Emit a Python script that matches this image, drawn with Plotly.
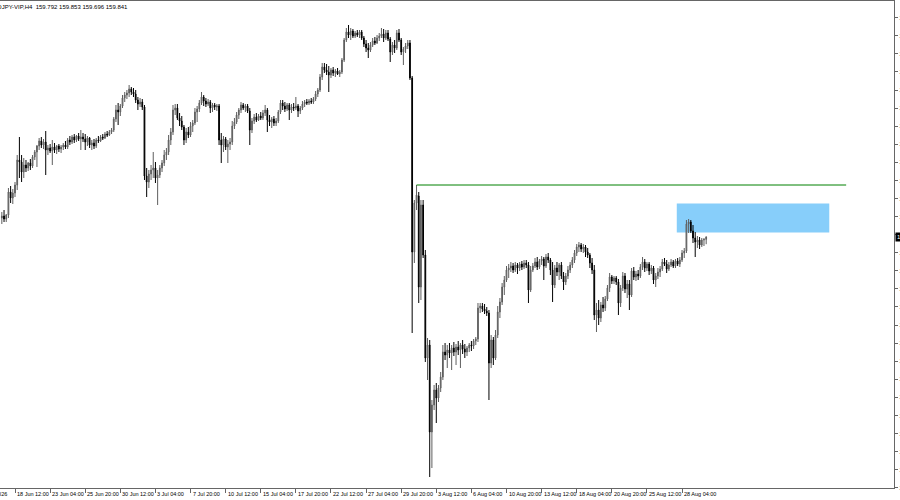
import plotly.graph_objects as go

title_text = "USDJPY-VIP,H4  159.792 159.853 159.696 159.841"
last_price = 159.841

open_ = [
    160.22, 160.26, 160.20, 160.28, 160.74, 160.62, 160.72, 160.88, 161.38, 161.34,
    161.14, 161.28, 161.22, 161.32, 161.26, 161.44, 161.54, 161.66, 161.76, 161.68,
    161.74, 161.58, 161.62, 161.56, 161.64, 161.58, 161.66, 161.60, 161.64, 161.68,
    161.64, 161.78, 161.74, 161.84, 161.78, 161.86, 161.80, 161.84, 161.80, 161.74,
    161.82, 161.68, 161.72, 161.66, 161.78, 161.76, 161.84, 161.82, 161.90, 161.88,
    161.94, 161.98, 162.20, 162.38, 162.34, 162.46, 162.62, 162.68, 162.72, 162.80,
    162.74, 162.70, 162.58, 162.50, 162.54, 162.44, 161.06, 160.94, 161.10, 161.18,
    161.22, 161.02, 161.08, 161.22, 161.32, 161.48, 161.54, 161.78, 161.94, 162.38,
    162.42, 162.22, 162.16, 162.04, 161.78, 161.94, 161.88, 162.06, 162.12, 162.34,
    162.40, 162.52, 162.64, 162.56, 162.50, 162.54, 162.42, 162.48, 162.44, 162.46,
    161.78, 161.68, 161.80, 161.64, 161.70, 161.74, 162.06, 162.14, 162.28, 162.38,
    162.48, 162.42, 162.46, 162.36, 161.98, 162.16, 162.24, 162.18, 162.26, 162.22,
    162.32, 162.38, 162.18, 162.14, 162.20, 162.12, 162.16, 162.34, 162.52, 162.46,
    162.40, 162.48, 162.38, 162.44, 162.42, 162.46, 162.36, 162.42, 162.50, 162.54,
    162.52, 162.56, 162.54, 162.60, 162.70, 162.78, 163.04, 163.24, 163.18, 163.14,
    163.08, 163.18, 163.12, 163.16, 163.10, 163.14, 163.38, 163.78, 163.94, 163.88,
    163.96, 163.86, 163.92, 163.88, 163.94, 163.82, 163.70, 163.62, 163.58, 163.68,
    163.76, 163.72, 163.82, 163.86, 163.90, 163.82, 163.92, 163.80, 163.54, 163.68,
    163.62, 163.92, 163.78, 163.54, 163.60, 163.66, 163.72, 163.02, 159.54, 160.52,
    160.66, 158.84, 160.48, 159.48, 157.42, 157.68, 155.94, 156.48, 156.78, 156.62,
    156.82, 157.04, 157.54, 157.48, 157.58, 157.52, 157.62, 157.54, 157.64, 157.58,
    157.68, 157.60, 157.54, 157.62, 157.68, 157.66, 157.76, 157.80, 158.42, 158.46,
    158.40, 158.36, 158.32, 157.32, 157.78, 157.42, 157.88, 158.34, 158.54, 158.84,
    158.98, 159.18, 159.22, 159.26, 159.18, 159.28, 159.22, 159.30, 159.24, 159.32,
    159.28, 158.78, 159.18, 159.26, 159.34, 159.24, 159.36, 159.40, 159.26, 159.44,
    159.38, 159.18, 158.88, 159.22, 159.14, 159.28, 159.06, 158.94, 159.06, 159.18,
    159.28, 159.38, 159.52, 159.64, 159.68, 159.60, 159.64, 159.54, 159.48, 159.32,
    159.18, 158.28, 158.38, 158.22, 158.48, 158.42, 158.60, 158.82, 159.04, 158.96,
    159.02, 158.94, 158.52, 158.82, 159.06, 158.80, 158.90, 158.68, 159.16, 159.04,
    159.10, 159.06, 159.24, 159.34, 159.22, 159.30, 159.16, 159.22, 158.98, 159.06,
    159.14, 159.20, 159.34, 159.30, 159.20, 159.28, 159.34, 159.26, 159.36, 159.30,
    159.38, 159.52, 159.56, 160.10, 160.14, 159.96, 159.82, 159.74, 159.78, 159.68,
    159.78, 159.792,
]

high = [
    160.34, 160.38, 160.30, 160.82, 160.86, 160.80, 160.94, 161.48, 161.84, 161.48,
    161.42, 161.38, 161.34, 161.40, 161.48, 161.58, 161.68, 161.82, 161.84, 161.80,
    161.96, 161.68, 161.70, 161.78, 161.72, 161.68, 161.70, 161.68, 161.72, 161.76,
    161.82, 161.86, 161.88, 161.90, 161.88, 161.92, 161.98, 161.92, 161.90, 161.86,
    161.84, 161.78, 161.80, 161.82, 161.86, 161.88, 161.90, 161.94, 161.96, 161.98,
    162.02, 162.24, 162.48, 162.52, 162.50, 162.68, 162.74, 162.78, 162.88, 162.84,
    162.82, 162.78, 162.64, 162.62, 162.60, 162.48, 161.22, 161.18, 161.28, 161.54,
    161.34, 161.18, 161.28, 161.38, 161.58, 161.62, 161.88, 162.02, 162.48, 162.50,
    162.50, 162.32, 162.26, 162.08, 162.02, 162.04, 162.14, 162.18, 162.42, 162.46,
    162.58, 162.74, 162.68, 162.62, 162.60, 162.58, 162.52, 162.52, 162.50, 162.50,
    161.92, 161.86, 161.84, 161.78, 161.82, 162.16, 162.22, 162.34, 162.42, 162.54,
    162.52, 162.50, 162.50, 162.42, 162.22, 162.30, 162.32, 162.30, 162.34, 162.38,
    162.48, 162.42, 162.28, 162.24, 162.26, 162.22, 162.38, 162.58, 162.58, 162.54,
    162.52, 162.52, 162.50, 162.52, 162.64, 162.50, 162.46, 162.56, 162.58, 162.60,
    162.60, 162.62, 162.64, 162.76, 162.82, 163.10, 163.32, 163.32, 163.30, 163.26,
    163.22, 163.24, 163.20, 163.22, 163.18, 163.42, 163.82, 164.02, 164.08, 164.02,
    164.00, 163.96, 163.98, 163.98, 163.98, 163.86, 163.78, 163.72, 163.74, 163.82,
    163.84, 163.88, 163.92, 164.02, 164.00, 163.98, 163.98, 163.84, 163.74, 163.78,
    163.98, 164.00, 163.82, 163.64, 163.72, 163.78, 163.78, 163.06, 160.58, 160.88,
    160.74, 160.58, 160.58, 159.58, 157.82, 157.78, 156.58, 156.88, 156.92, 156.88,
    157.14, 157.68, 157.72, 157.68, 157.72, 157.68, 157.74, 157.70, 157.76, 157.72,
    157.78, 157.70, 157.66, 157.72, 157.76, 157.80, 157.84, 158.52, 158.52, 158.52,
    158.50, 158.44, 158.38, 157.88, 157.84, 157.98, 158.46, 158.62, 158.92, 159.06,
    159.26, 159.30, 159.34, 159.32, 159.34, 159.32, 159.34, 159.36, 159.38, 159.38,
    159.34, 159.26, 159.32, 159.42, 159.44, 159.40, 159.46, 159.44, 159.50, 159.52,
    159.42, 159.34, 159.28, 159.34, 159.32, 159.34, 159.14, 159.12, 159.26, 159.34,
    159.44, 159.58, 159.70, 159.74, 159.72, 159.70, 159.68, 159.62, 159.52, 159.42,
    159.28, 158.52, 158.58, 158.54, 158.64, 158.66, 158.88, 159.12, 159.08, 159.06,
    159.06, 159.00, 158.88, 159.14, 159.12, 158.98, 158.98, 159.22, 159.24, 159.16,
    159.18, 159.30, 159.44, 159.40, 159.34, 159.34, 159.28, 159.26, 159.12, 159.22,
    159.26, 159.40, 159.42, 159.38, 159.34, 159.40, 159.38, 159.40, 159.42, 159.44,
    159.58, 159.62, 160.18, 160.20, 160.18, 160.08, 159.94, 159.86, 159.84, 159.82,
    159.82, 159.853,
]

low = [
    160.10, 160.14, 160.14, 160.22, 160.52, 160.50, 160.64, 160.78, 161.02, 160.94,
    161.02, 161.14, 161.16, 161.18, 161.22, 161.38, 161.24, 161.58, 161.62, 161.60,
    161.08, 161.48, 161.52, 161.28, 161.52, 161.50, 161.54, 161.52, 161.58, 161.60,
    161.60, 161.68, 161.70, 161.72, 161.74, 161.76, 161.58, 161.74, 161.58, 161.66,
    161.62, 161.58, 161.60, 161.62, 161.72, 161.74, 161.78, 161.80, 161.84, 161.86,
    161.90, 161.94, 162.14, 162.08, 162.26, 162.42, 162.54, 162.60, 162.64, 162.68,
    162.64, 162.52, 162.38, 162.44, 162.38, 160.98, 160.64, 160.82, 160.98, 161.02,
    160.92, 160.48, 161.02, 161.14, 161.26, 161.38, 161.48, 161.68, 161.88, 162.28,
    162.18, 162.06, 161.98, 161.68, 161.72, 161.82, 161.84, 161.94, 162.08, 162.14,
    162.34, 162.48, 162.46, 162.44, 162.46, 162.32, 162.34, 162.38, 162.36, 161.68,
    161.32, 161.54, 161.58, 161.32, 161.58, 161.68, 162.00, 162.10, 162.20, 162.32,
    162.38, 162.34, 162.32, 161.68, 161.92, 162.10, 162.14, 162.16, 162.18, 162.18,
    162.26, 161.94, 162.06, 162.02, 162.06, 162.06, 162.12, 162.30, 162.38, 162.34,
    162.36, 162.18, 162.32, 162.36, 162.38, 162.24, 162.30, 162.38, 162.44, 162.48,
    162.48, 162.50, 162.50, 162.56, 162.64, 162.74, 162.98, 163.12, 163.08, 162.74,
    163.02, 163.06, 163.04, 163.08, 163.04, 163.10, 163.34, 163.74, 163.82, 163.78,
    163.82, 163.82, 163.84, 163.82, 163.78, 163.64, 163.54, 163.42, 163.54, 163.64,
    163.68, 163.70, 163.76, 163.82, 163.74, 163.78, 163.76, 163.34, 163.48, 163.52,
    163.58, 163.74, 163.48, 163.28, 163.52, 163.60, 162.98, 157.92, 159.32, 160.38,
    158.52, 158.58, 159.42, 157.34, 156.98, 155.04, 155.22, 156.38, 156.12, 156.54,
    156.74, 156.98, 157.38, 157.22, 157.42, 157.18, 157.46, 157.28, 157.48, 157.22,
    157.50, 157.42, 157.46, 157.54, 157.56, 157.60, 157.68, 157.74, 158.32, 158.34,
    158.30, 158.26, 156.58, 157.22, 157.28, 157.38, 157.82, 158.22, 158.48, 158.68,
    158.94, 159.02, 159.14, 159.12, 159.14, 159.10, 159.16, 159.18, 159.20, 159.22,
    158.52, 158.74, 159.14, 159.22, 159.18, 159.20, 159.28, 158.98, 159.22, 159.32,
    159.08, 158.54, 158.82, 159.06, 158.98, 159.00, 158.78, 158.88, 159.00, 159.12,
    159.22, 159.32, 159.46, 159.54, 159.54, 159.52, 159.44, 159.42, 159.22, 159.10,
    158.18, 157.94, 158.08, 158.14, 158.34, 158.36, 158.56, 158.74, 158.90, 158.90,
    158.88, 158.28, 158.44, 158.76, 158.72, 158.62, 158.38, 158.64, 158.98, 158.96,
    158.98, 159.02, 159.18, 159.14, 159.16, 159.08, 159.10, 158.90, 158.84, 159.00,
    159.04, 159.16, 159.26, 159.12, 159.16, 159.24, 159.22, 159.22, 159.26, 159.24,
    159.34, 159.42, 159.52, 159.92, 159.92, 159.72, 159.44, 159.62, 159.60, 159.64,
    159.66, 159.696,
]

close = [
    160.26, 160.20, 160.28, 160.74, 160.62, 160.72, 160.88, 161.38, 161.34, 161.14,
    161.28, 161.22, 161.32, 161.26, 161.44, 161.54, 161.66, 161.76, 161.68, 161.74,
    161.58, 161.62, 161.56, 161.64, 161.58, 161.66, 161.60, 161.64, 161.68, 161.64,
    161.78, 161.74, 161.84, 161.78, 161.86, 161.80, 161.84, 161.80, 161.74, 161.82,
    161.68, 161.72, 161.66, 161.78, 161.76, 161.84, 161.82, 161.90, 161.88, 161.94,
    161.98, 162.20, 162.38, 162.34, 162.46, 162.62, 162.68, 162.72, 162.80, 162.74,
    162.70, 162.58, 162.50, 162.54, 162.44, 161.06, 160.94, 161.10, 161.18, 161.22,
    161.02, 161.08, 161.22, 161.32, 161.48, 161.54, 161.78, 161.94, 162.38, 162.42,
    162.22, 162.16, 162.04, 161.78, 161.94, 161.88, 162.06, 162.12, 162.34, 162.40,
    162.52, 162.64, 162.56, 162.50, 162.54, 162.42, 162.48, 162.44, 162.46, 161.78,
    161.68, 161.80, 161.64, 161.70, 161.74, 162.06, 162.14, 162.28, 162.38, 162.48,
    162.42, 162.46, 162.36, 161.98, 162.16, 162.24, 162.18, 162.26, 162.22, 162.32,
    162.38, 162.18, 162.14, 162.20, 162.12, 162.16, 162.34, 162.52, 162.46, 162.40,
    162.48, 162.38, 162.44, 162.42, 162.46, 162.36, 162.42, 162.50, 162.54, 162.52,
    162.56, 162.54, 162.60, 162.70, 162.78, 163.04, 163.24, 163.18, 163.14, 163.08,
    163.18, 163.12, 163.16, 163.10, 163.14, 163.38, 163.78, 163.94, 163.88, 163.96,
    163.86, 163.92, 163.88, 163.94, 163.82, 163.70, 163.62, 163.58, 163.68, 163.76,
    163.72, 163.82, 163.86, 163.90, 163.82, 163.92, 163.80, 163.54, 163.68, 163.62,
    163.92, 163.78, 163.54, 163.60, 163.66, 163.72, 163.02, 159.54, 160.52, 160.68,
    158.84, 160.48, 159.48, 157.42, 157.68, 155.94, 156.48, 156.78, 156.62, 156.82,
    157.04, 157.54, 157.48, 157.58, 157.52, 157.62, 157.54, 157.64, 157.58, 157.68,
    157.60, 157.54, 157.62, 157.68, 157.66, 157.76, 157.80, 158.42, 158.46, 158.40,
    158.36, 158.32, 157.32, 157.78, 157.42, 157.88, 158.34, 158.54, 158.84, 158.98,
    159.18, 159.22, 159.26, 159.18, 159.28, 159.22, 159.30, 159.24, 159.32, 159.28,
    158.78, 159.18, 159.26, 159.34, 159.24, 159.36, 159.40, 159.26, 159.44, 159.38,
    159.18, 158.88, 159.22, 159.14, 159.28, 159.06, 158.94, 159.06, 159.18, 159.28,
    159.38, 159.52, 159.64, 159.68, 159.60, 159.64, 159.54, 159.48, 159.32, 159.18,
    158.28, 158.38, 158.22, 158.48, 158.42, 158.60, 158.82, 159.04, 158.96, 159.02,
    158.94, 158.52, 158.82, 159.06, 158.80, 158.90, 158.68, 159.16, 159.04, 159.10,
    159.06, 159.24, 159.34, 159.22, 159.30, 159.16, 159.22, 158.98, 159.06, 159.14,
    159.20, 159.34, 159.30, 159.20, 159.28, 159.34, 159.26, 159.36, 159.30, 159.38,
    159.52, 159.56, 160.10, 160.14, 159.96, 159.82, 159.74, 159.78, 159.68, 159.78,
    159.79, 159.841,
]

tick_labels = [
    "18 Jun 12:00", "23 Jun 04:00", "25 Jun 20:00", "30 Jun 12:00", "3 Jul 04:00",
    "7 Jul 20:00", "10 Jul 12:00", "15 Jul 04:00", "17 Jul 20:00", "22 Jul 12:00",
    "27 Jul 04:00", "29 Jul 20:00", "3 Aug 12:00", "6 Aug 04:00", "10 Aug 20:00",
    "13 Aug 12:00", "18 Aug 04:00", "20 Aug 20:00", "25 Aug 12:00", "28 Aug 04:00",
]
first_label = "17 Jun 2026"

# horizontal level and supply zone (price levels / bar indices)
level_price = 160.88
level_from_bar, level_to_bar = 189, 384.8
zone_top, zone_bottom = 160.51, 159.93
zone_from_bar, zone_to_bar = 307.6, 377.1

bar_index = list(range(len(close)))
tick_index = [6 + 16 * k for k in range(len(tick_labels))]

FONT = "Liberation Sans"

fig = go.Figure()
fig.add_trace(go.Candlestick(
    x=bar_index, open=open_, high=high, low=low, close=close,
    increasing=dict(line=dict(color="#5e5e5e", width=1), fillcolor="#a0a0a0"),
    decreasing=dict(line=dict(color="#000000", width=1), fillcolor="#000000"),
    whiskerwidth=0, hoverinfo="skip", showlegend=False,
))

fig.add_shape(type="rect", xref="x", yref="y",
              x0=zone_from_bar, x1=zone_to_bar, y0=zone_bottom, y1=zone_top,
              fillcolor="#87cefa", line=dict(width=0), layer="below")
fig.add_shape(type="line", xref="x", yref="y",
              x0=level_from_bar, x1=level_to_bar, y0=level_price, y1=level_price,
              line=dict(color="#008000", width=1))

annotations = []
for pos, lab in zip(tick_index, tick_labels):
    annotations.append(dict(
        x=pos, y=0, xref="x", yref="paper", text=lab, showarrow=False,
        xanchor="left", yanchor="top", xshift=0, yshift=-1,
        font=dict(family=FONT, size=5.5, color="#000000"),
    ))
annotations.append(dict(
    x=0, y=0, xref="paper", yref="paper", text=first_label, showarrow=False,
    xanchor="right", yanchor="top", xshift=9, yshift=-1,
    font=dict(family=FONT, size=5.5, color="#000000"),
))
annotations.append(dict(
    x=0, y=1, xref="paper", yref="paper", text=title_text, showarrow=False,
    xanchor="left", yanchor="top", xshift=-13, yshift=-1,
    font=dict(family=FONT, size=6, color="#000000"),
))
annotations.append(dict(
    x=1, y=last_price, xref="paper", yref="y", text="%.3f" % last_price,
    showarrow=False, xanchor="left", yanchor="middle", xshift=1,
    bgcolor="#000000", borderpad=1,
    font=dict(family=FONT, size=6, color="#ffffff"),
))

fig.update_layout(
    width=900, height=500,
    margin=dict(l=0, r=6, t=1, b=12, pad=0),
    paper_bgcolor="white", plot_bgcolor="white",
    showlegend=False,
    boxgap=0.5,
    annotations=annotations,
    xaxis=dict(
        range=[-0.84, 406.6], showgrid=False, zeroline=False,
        showline=True, linecolor="#666666", linewidth=1, mirror=True,
        ticks="outside", ticklen=4, tickcolor="#666666",
        tickmode="array", tickvals=tick_index, showticklabels=False,
        rangeslider=dict(visible=False), fixedrange=True, automargin=False,
    ),
    yaxis=dict(
        side="right", range=[154.82, 164.56], showgrid=False, zeroline=False,
        showline=True, linecolor="#666666", linewidth=1,
        ticks="outside", ticklen=3, tickcolor="#666666",
        tickmode="linear", tick0=164.226, dtick=0.3616, tickformat=".3f",
        tickfont=dict(family=FONT, size=6, color="#000000"),
        fixedrange=True, automargin=False,
    ),
)

fig.write_html("out.html", config={"displayModeBar": False},
               post_script="document.body.style.margin='0';")
